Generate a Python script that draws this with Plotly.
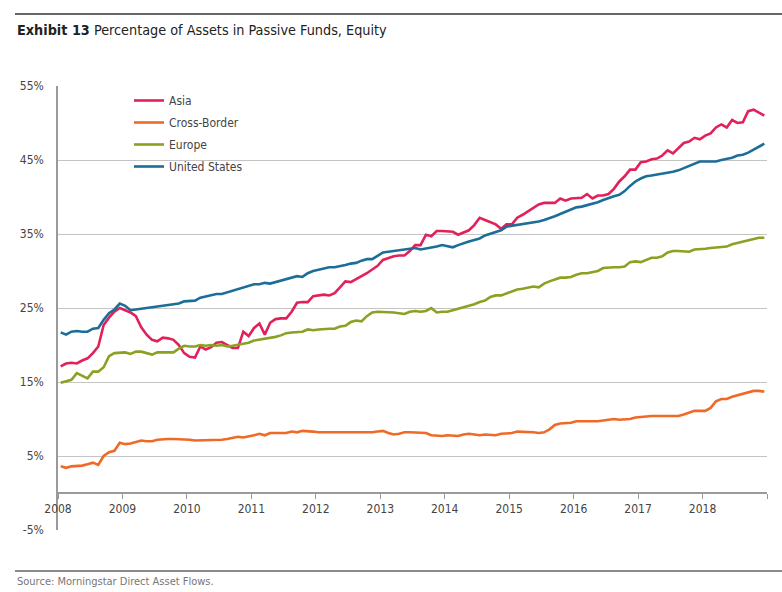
import numpy as np
import plotly.graph_objects as go

# Monthly data, Jan 2008 - Dec 2018 (percent)
asia = [17.1, 17.5, 17.6, 17.5, 17.9, 18.2, 18.9, 19.8, 22.7, 23.7, 24.5, 25.0,
        24.7, 24.4, 23.9, 22.4, 21.4, 20.7, 20.5, 21.0, 20.9, 20.7, 20.0, 18.9,
        18.4, 18.3, 19.8, 19.4, 19.7, 20.3, 20.4, 20.0, 19.6, 19.6, 21.8, 21.2,
        22.3, 22.9, 21.4, 23.0, 23.5, 23.6, 23.6, 24.5, 25.7, 25.8, 25.8, 26.6,
        26.7, 26.8, 26.7, 27.0, 27.8, 28.6, 28.5, 28.9, 29.2, 29.7, 30.2, 30.7,
        31.5, 31.8, 32.0, 32.1, 32.1, 32.7, 33.5, 33.5, 34.9, 34.7, 35.4, 35.4,
        35.4, 35.3, 34.9, 35.2, 35.5, 36.2, 37.2, 36.9, 36.6, 36.3, 35.7, 36.3,
        36.3, 37.2, 37.6, 38.1, 38.5, 39.0, 39.2, 39.2, 39.2, 39.8, 39.5, 39.8,
        39.9, 39.9, 40.4, 39.8, 40.2, 40.2, 40.4, 41.1, 42.1, 42.8, 43.7, 43.7,
        44.7, 44.8, 45.1, 45.2, 45.6, 46.3, 45.9, 46.6, 47.3, 47.5, 48.0, 47.8,
        48.3, 48.6, 49.4, 49.8, 49.4, 50.4, 50.0, 50.1, 51.6, 51.8, 51.4, 51.0]

cross_border = [3.6, 3.4, 3.6, 3.6, 3.7, 3.9, 4.1, 3.8, 5.0, 5.5, 5.7, 6.8,
                6.6, 6.7, 6.9, 7.1, 7.0, 7.0, 7.2, 7.3, 7.3, 7.3, 7.3, 7.2,
                7.2, 7.1, 7.1, 7.1, 7.1, 7.1, 7.2, 7.3, 7.4, 7.6, 7.5, 7.6,
                7.8, 8.0, 7.8, 8.1, 8.1, 8.2, 8.1, 8.3, 8.2, 8.4, 8.4, 8.3,
                8.2, 8.2, 8.1, 8.1, 8.1, 8.1, 8.2, 8.2, 8.2, 8.2, 8.2, 8.3,
                8.4, 8.1, 7.9, 8.0, 8.2, 8.2, 8.2, 8.2, 8.1, 7.8, 7.7, 7.7,
                7.8, 7.8, 7.7, 7.9, 8.0, 7.9, 7.8, 7.9, 7.9, 7.8, 8.0, 8.0,
                8.1, 8.3, 8.3, 8.2, 8.2, 8.1, 8.2, 8.6, 9.2, 9.4, 9.4, 9.5,
                9.7, 9.7, 9.6, 9.7, 9.7, 9.8, 9.9, 10.0, 9.9, 9.9, 10.0, 10.2,
                10.3, 10.3, 10.4, 10.4, 10.4, 10.4, 10.4, 10.4, 10.6, 10.9, 11.1, 11.1,
                11.1, 11.5, 12.4, 12.7, 12.7, 13.0, 13.2, 13.3, 13.6, 13.8, 13.8, 13.7]

europe = [14.9, 15.1, 15.3, 16.2, 15.8, 15.5, 16.4, 16.4, 17.0, 18.5, 18.9, 19.0,
          19.0, 18.8, 19.1, 19.1, 18.9, 18.7, 19.0, 19.0, 19.1, 19.0, 19.5, 19.9,
          19.8, 19.8, 20.0, 19.9, 20.0, 19.9, 20.0, 19.8, 19.9, 20.0, 20.2, 20.3,
          20.6, 20.7, 20.8, 20.9, 21.1, 21.3, 21.6, 21.7, 21.7, 21.8, 22.1, 22.0,
          22.1, 22.2, 22.2, 22.2, 22.5, 22.6, 23.1, 23.3, 23.2, 23.9, 24.4, 24.5,
          24.5, 24.5, 24.4, 24.3, 24.2, 24.5, 24.6, 24.5, 24.6, 25.0, 24.4, 24.5,
          24.5, 24.7, 24.9, 25.0, 25.2, 25.5, 25.8, 26.0, 26.5, 26.7, 26.7, 27.0,
          27.3, 27.5, 27.6, 27.7, 27.9, 27.8, 28.3, 28.6, 28.8, 29.1, 29.1, 29.2,
          29.5, 29.7, 29.7, 29.8, 30.0, 30.4, 30.5, 30.5, 30.5, 30.6, 31.2, 31.3,
          31.2, 31.5, 31.8, 31.8, 32.0, 32.5, 32.7, 32.7, 32.7, 32.6, 32.9, 32.9,
          33.0, 33.1, 33.2, 33.2, 33.3, 33.6, 33.8, 33.9, 34.1, 34.4, 34.5, 34.5]

united_states = [21.7, 21.4, 21.8, 21.9, 21.8, 21.8, 22.2, 22.3, 23.4, 24.3, 24.8, 25.6,
                 25.3, 24.7, 24.8, 24.9, 25.0, 25.0, 25.1, 25.2, 25.3, 25.4, 25.6, 25.9,
                 25.9, 26.0, 26.4, 26.6, 26.8, 26.9, 26.9, 27.1, 27.3, 27.5, 27.7, 28.0,
                 28.2, 28.2, 28.4, 28.3, 28.5, 28.7, 28.9, 29.2, 29.3, 29.2, 29.7, 30.0,
                 30.2, 30.4, 30.5, 30.5, 30.6, 30.8, 31.0, 31.1, 31.4, 31.6, 31.6, 32.0,
                 32.5, 32.6, 32.7, 32.8, 33.0, 33.0, 33.1, 32.9, 33.0, 33.1, 33.3, 33.5,
                 33.4, 33.2, 33.5, 33.8, 34.0, 34.2, 34.4, 34.8, 35.0, 35.2, 35.5, 36.0,
                 36.1, 36.2, 36.3, 36.5, 36.6, 36.7, 36.9, 37.1, 37.4, 37.7, 38.0, 38.4,
                 38.6, 38.7, 38.9, 39.0, 39.3, 39.6, 39.9, 40.1, 40.3, 40.8, 41.5, 42.1,
                 42.5, 42.8, 42.9, 43.0, 43.2, 43.2, 43.4, 43.6, 43.9, 44.2, 44.5, 44.8,
                 44.8, 44.8, 44.8, 45.0, 45.1, 45.3, 45.6, 45.7, 46.0, 46.4, 46.7, 47.2]

series_names = ["Asia", "Cross-Border", "Europe", "United States"]
series_colors = ["#E2215A", "#EE6A26", "#8BA121", "#1C6E99"]

year_ticks = list(range(2008, 2020))
year_labels = [str(y) for y in range(2008, 2019)] + [""]
y_label_vals = [-5, 5, 15, 25, 35, 45, 55]
y_labels = ["-5%", "5%", "15%", "25%", "35%", "45%", "55%"]
y_grid_vals = [5, 15, 25, 35, 45, 55]

start_year = 2008
x = start_year + (np.arange(len(asia)) + 0.5) / 12.0

FONT = "DejaVu Sans Condensed, Liberation Sans Narrow, sans-serif"

fig = go.Figure()
for name, vals, color in zip(series_names, [asia, cross_border, europe, united_states], series_colors):
    fig.add_trace(go.Scatter(x=x, y=vals, mode="lines", name=name, legendgroup=name,
                             line=dict(color=color, width=2.6)))
# invisible trace so the label axis is drawn
fig.add_trace(go.Scatter(x=[start_year], y=[None], yaxis="y2", showlegend=False,
                         hoverinfo="skip", mode="lines"))

W, H = 782, 592
L, R, T, B = 58, 15, 86, 62
pw, ph = W - L - R, H - T - B

def px_x(p):
    return (p - L) / pw

def px_y(p):
    return (H - B - p) / ph

fig.update_layout(
    width=W, height=H,
    margin=dict(l=L, r=R, t=T, b=B),
    paper_bgcolor="white", plot_bgcolor="white",
    font=dict(family=FONT, size=12, color="#444444"),
    showlegend=True,
    legend=dict(x=px_x(129), y=px_y(86), xanchor="left", yanchor="top",
                bgcolor="rgba(0,0,0,0)", font=dict(size=12, color="#444444"),
                tracegroupgap=3, itemwidth=30),
    xaxis=dict(range=[2008, 2019], tickmode="array", tickvals=year_ticks, ticktext=year_labels,
               showgrid=False, zeroline=False, showline=True, linecolor="#9a9a9a", linewidth=1.5,
               ticks="outside", ticklen=5, tickcolor="#9a9a9a", tickwidth=1,
               anchor="free", position=5 / 60, tickfont=dict(size=12, color="#444444")),
    yaxis=dict(range=[-5, 55], tickmode="array", tickvals=y_grid_vals, showticklabels=False,
               showgrid=True, gridcolor="#c4c4c4", gridwidth=1.2, zeroline=False,
               showline=False, ticks=""),
    yaxis2=dict(range=[-5, 55], overlaying="y", side="left", tickmode="array",
                tickvals=y_label_vals, ticktext=y_labels, showgrid=False, zeroline=False,
                showline=True, linecolor="#9a9a9a", linewidth=1.5, ticks="",
                ticklabelstandoff=10, tickfont=dict(size=12, color="#444444")),
    shapes=[
        dict(type="line", xref="paper", yref="paper", x0=px_x(15), x1=px_x(782),
             y0=px_y(14), y1=px_y(14), line=dict(color="#333333", width=1.5)),
        dict(type="line", xref="paper", yref="paper", x0=px_x(15), x1=px_x(782),
             y0=px_y(571), y1=px_y(571), line=dict(color="#8a8a8a", width=2)),
    ],
    annotations=[
        dict(text="<b>Exhibit 13</b> Percentage of Assets in Passive Funds, Equity",
             xref="paper", yref="paper", x=px_x(15), y=px_y(30), xanchor="left",
             yanchor="middle", showarrow=False, font=dict(size=14.3, color="#222222")),
        dict(text="Source: Morningstar Direct Asset Flows.",
             xref="paper", yref="paper", x=px_x(15), y=px_y(581), xanchor="left",
             yanchor="middle", showarrow=False, font=dict(size=11, color="#777777")),
    ],
)

fig.write_html("out.html", config={"displayModeBar": False},
               post_script="document.body.style.margin='0';document.body.style.padding='0';")
